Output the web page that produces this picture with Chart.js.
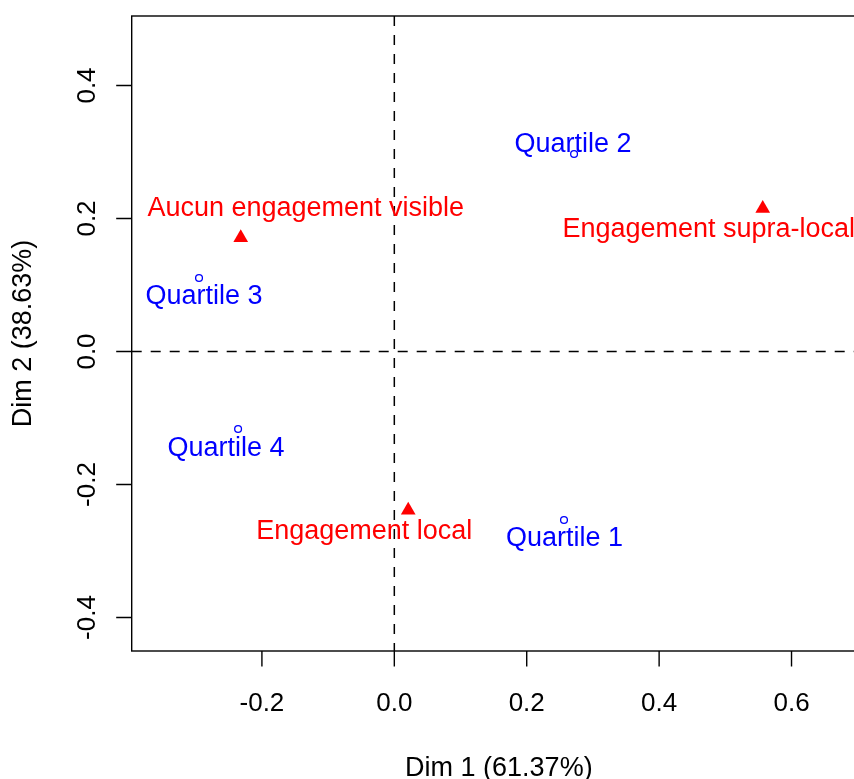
<!DOCTYPE html>
<html>
<head>
<meta charset="utf-8">
<script src="https://cdn.jsdelivr.net/npm/chart.js@4"></script>
<style>
  html, body { margin: 0; padding: 0; background: #fff; overflow: hidden; }
  #wrap { width: 854px; height: 779px; overflow: hidden; position: relative; }
  #wrap canvas { display: block; }
</style>
</head>
<body>
<div id="wrap"><canvas id="ca" width="868" height="779"></canvas></div>
<script>
// Correspondence analysis, factor map of dimensions 1 and 2
const rowLabels = ["Aucun engagement visible", "Engagement local", "Engagement supra-local"];
const rowDim1 = [-0.232, 0.021, 0.5565];
const rowDim2 = [0.171, -0.2387, 0.215];

const colLabels = ["Quartile 1", "Quartile 2", "Quartile 3", "Quartile 4"];
const colDim1 = [0.2563, 0.2715, -0.295, -0.236];
const colDim2 = [-0.2534, 0.297, 0.1105, -0.1165];

const xTicks = [-0.2, 0.0, 0.2, 0.4, 0.6];
const yTicks = [-0.4, -0.2, 0.0, 0.2, 0.4];
const xTitle = "Dim 1 (61.37%)";
const yTitle = "Dim 2 (38.63%)";

// label placement (pixel offsets of text centre/baseline from the point)
const rowLabelShift = [[65, -22], [-44, 29], [-54, 28.5]];
const colLabelShift = [[0.5, 26], [-1, -1.5], [5, 26], [-12, 27]];

const FAMILY = '"Liberation Sans", Arial, Helvetica, sans-serif';
const TICK_FONT = '26px ' + FAMILY;
const TEXT_FONT = '27px ' + FAMILY;
const RED = '#FF0000';
const BLUE = '#0000FF';

const rowPoints = rowDim1.map((x, i) => ({ x, y: rowDim2[i] }));
const colPoints = colDim1.map((x, i) => ({ x, y: colDim2[i] }));

const fmt = v => v.toFixed(1);

// axes, frame, dashed origin lines and point labels, drawn R-style
const factorMap = {
  id: 'factorMap',
  beforeDatasetsDraw(chart) {
    const { ctx, chartArea: a, scales: { x, y } } = chart;
    ctx.save();
    ctx.strokeStyle = '#000';
    ctx.lineWidth = 1.5;
    ctx.setLineDash([10, 9]);
    const x0 = x.getPixelForValue(0), y0 = y.getPixelForValue(0);
    ctx.beginPath();
    ctx.moveTo(x0, a.top); ctx.lineTo(x0, a.bottom);
    ctx.moveTo(a.left, y0); ctx.lineTo(a.right, y0);
    ctx.stroke();
    ctx.restore();
  },
  afterDatasetsDraw(chart) {
    const { ctx, chartArea: a, scales: { x, y } } = chart;
    ctx.save();
    // frame
    ctx.strokeStyle = '#000';
    ctx.lineWidth = 1.4;
    ctx.strokeRect(a.left, a.top, a.right - a.left, a.bottom - a.top);

    // ticks
    const tl = 15.5;
    ctx.beginPath();
    xTicks.forEach(v => {
      const px = x.getPixelForValue(v);
      ctx.moveTo(px, a.bottom); ctx.lineTo(px, a.bottom + tl);
    });
    yTicks.forEach(v => {
      const py = y.getPixelForValue(v);
      ctx.moveTo(a.left, py); ctx.lineTo(a.left - tl, py);
    });
    ctx.stroke();

    ctx.fillStyle = '#000';
    ctx.font = TICK_FONT;
    ctx.textAlign = 'center';
    ctx.textBaseline = 'alphabetic';
    xTicks.forEach(v => ctx.fillText(fmt(v), x.getPixelForValue(v), 711));
    yTicks.forEach(v => {
      ctx.save();
      ctx.translate(95, y.getPixelForValue(v));
      ctx.rotate(-Math.PI / 2);
      ctx.fillText(fmt(v), 0, 0);
      ctx.restore();
    });

    // axis titles
    ctx.font = TEXT_FONT;
    ctx.fillText(xTitle, (a.left + a.right) / 2, 776);
    ctx.save();
    ctx.translate(31, (a.top + a.bottom) / 2);
    ctx.rotate(-Math.PI / 2);
    ctx.fillText(yTitle, 0, 0);
    ctx.restore();

    // point labels
    const label = (metaIdx, texts, shifts, color) => {
      const meta = chart.getDatasetMeta(metaIdx);
      ctx.fillStyle = color;
      meta.data.forEach((el, i) => {
        ctx.fillText(texts[i], el.x + shifts[i][0], el.y + shifts[i][1]);
      });
    };
    label(0, rowLabels, rowLabelShift, RED);
    label(1, colLabels, colLabelShift, BLUE);
    ctx.restore();
  }
};

new Chart(document.getElementById('ca'), {
  type: 'scatter',
  data: {
    datasets: [
      {
        label: 'Lignes',
        data: rowPoints,
        pointStyle: 'triangle',
        pointRadius: 8.5,
        pointHoverRadius: 8.5,
        backgroundColor: RED,
        borderColor: RED,
        borderWidth: 0
      },
      {
        label: 'Colonnes',
        data: colPoints,
        pointStyle: 'circle',
        pointRadius: 3.4,
        pointHoverRadius: 3.4,
        backgroundColor: 'rgba(0,0,0,0)',
        borderColor: BLUE,
        borderWidth: 1.3
      }
    ]
  },
  options: {
    responsive: false,
    animation: false,
    events: [],
    layout: { autoPadding: false, padding: { left: 131.7, top: 16, right: 2, bottom: 128 } },
    plugins: { legend: { display: false }, tooltip: { enabled: false } },
    scales: {
      x: { type: 'linear', display: false, min: -0.3967, max: 0.7125 },
      y: { type: 'linear', display: false, min: -0.4504, max: 0.5045 }
    }
  },
  plugins: [factorMap]
});
</script>
</body>
</html>
